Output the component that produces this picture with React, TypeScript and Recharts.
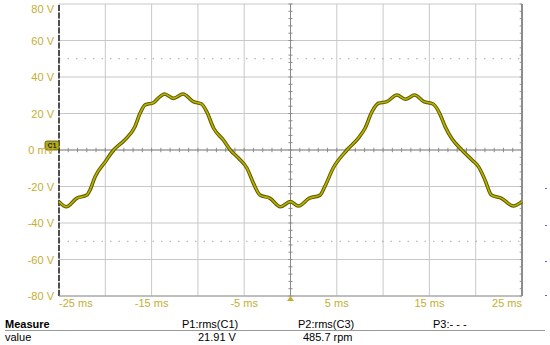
import {
  LineChart,
  Line,
  XAxis,
  YAxis,
  CartesianGrid,
  ReferenceLine,
  ReferenceDot,
} from "recharts";

// waveform (time in ms, C1 in volts)
const timeMs = [
  -25, -24.2, -23.1, -22.0, -21.65, -21.1, -20.0, -19.1, -17.9, -16.8, -16.25,
  -15.7, -14.8, -14.3, -13.6, -12.65, -11.6, -10.5, -9.6, -9.05, -8.3, -7.25,
  -6.5, -5.6, -4.7, -4.0, -3.3, -2.2, -1.1, 0, 0.85, 2.0, 3.2, 3.7, 4.6, 6.1,
  7.3, 8.05, 8.8, 9.5, 10.4, 11.5, 12.4, 13.4, 14.4, 15.4, 16.1, 16.7, 17.4,
  18.5, 19.6, 20.3, 21.0, 21.7, 22.8, 24.05, 25,
];
const voltage = [
  -28.3, -31.1, -26.5, -24.7, -21.9, -14.6, -6.4, 0, 5.5, 12.8, 20.1, 24.7,
  25.9, 28.3, 30.7, 28.3, 30.7, 26.5, 25.2, 21, 11.9, 5.5, 0, -4.5, -10, -18.3,
  -24.7, -26.5, -31.1, -28.3, -30.7, -26.5, -24.7, -20.1, -10, 0, 6.4, 11.9, 21,
  25.6, 26.5, 30.1, 27.8, 30.1, 26.5, 25.2, 20.1, 12.8, 6.4, 0, -5.5, -9.1,
  -16.4, -24.7, -26.5, -30.7, -28.3,
];

const timeTicks = [-25, -20, -15, -10, -5, 0, 5, 10, 15, 20, 25];
const labelledTimes = [-25, -15, -5, 5, 15, 25];
const voltTicks = [-80, -60, -40, -20, 0, 20, 40, 60, 80];

// minor graticule marks on the centre axes
const minorTimes = Array.from({ length: 51 }, (_, i) => i - 25);
const minorVolts = Array.from({ length: 41 }, (_, i) => i * 4 - 80);

const data = timeMs.map((t, i) => ({ t, v: voltage[i] }));

const gold = "#c4ae32";
const font = "'Liberation Sans', Arial, sans-serif";

function TimeTick(props: any) {
  const { x, y, payload } = props;
  if (!labelledTimes.includes(payload.value)) return <g />;
  let anchor = "middle";
  if (payload.value === -25) anchor = "start";
  if (payload.value === 25) anchor = "end";
  return (
    <text x={x} y={y} dy={3} textAnchor={anchor} fill={gold} fontSize={11} fontFamily={font}>
      {payload.value} ms
    </text>
  );
}

function VoltTick(props: any) {
  const { x, y, payload } = props;
  const label = payload.value === 0 ? "0 mV" : `${payload.value} V`;
  return (
    <text x={x} y={y} dy={4} textAnchor="end" fill={gold} fontSize={11} fontFamily={font}>
      {label}
    </text>
  );
}

function TriggerMark(props: any) {
  const { cx, cy } = props;
  return <polygon points={`${cx - 3.5},${cy + 5} ${cx + 3.5},${cy + 5} ${cx},${cy}`} fill={gold} />;
}

function ChannelFlag(props: any) {
  const { cx, cy } = props;
  return (
    <g>
      <rect x={cx - 14} y={cy - 9} width={14} height={9} rx={2} fill="#b3ab10" stroke="#55520a" strokeWidth={0.8} />
      <text x={cx - 7} y={cy - 1.8} textAnchor="middle" fontSize={7} fontWeight="bold" fill="#222" fontFamily={font}>
        C1
      </text>
    </g>
  );
}

const blueMarks = [188, 225, 261, 295];

export default function App() {
  return (
    <div
      style={{
        position: "absolute",
        left: 0,
        top: 0,
        width: 550,
        height: 345,
        background: "#fff",
        fontFamily: font,
      }}
    >
      <LineChart width={550} height={345} data={data} margin={{ top: 4, right: 28, bottom: 29, left: 0 }}>
        <CartesianGrid stroke="#c8c8c8" strokeWidth={1} />
        <XAxis
          dataKey="t"
          type="number"
          domain={[-25, 25]}
          ticks={timeTicks}
          tick={<TimeTick />}
          tickLine={false}
          axisLine={false}
          height={20}
        />
        <YAxis
          type="number"
          domain={[-80, 80]}
          ticks={voltTicks}
          tick={<VoltTick />}
          tickLine={false}
          axisLine={false}
          tickSize={0}
          tickMargin={5}
          width={59}
        />
        <ReferenceLine y={50} stroke="#a8a8a8" strokeDasharray="1.5 7" />
        <ReferenceLine y={-50} stroke="#a8a8a8" strokeDasharray="1.5 7" />
        <ReferenceLine y={0} stroke="#8a8a8a" />
        <ReferenceLine x={0} stroke="#8a8a8a" />
        {minorTimes.map((t) => (
          <ReferenceLine
            key={`mt${t}`}
            segment={[
              { x: t, y: -1.2 },
              { x: t, y: 1.2 },
            ]}
            stroke="#8a8a8a"
          />
        ))}
        {minorVolts.map((v) => (
          <ReferenceLine
            key={`mv${v}`}
            segment={[
              { x: -0.22, y: v },
              { x: 0.22, y: v },
            ]}
            stroke="#8a8a8a"
          />
        ))}
        {minorVolts.map((v) => (
          <ReferenceLine
            key={`rv${v}`}
            segment={[
              { x: 24.75, y: v },
              { x: 25, y: v },
            ]}
            stroke="#999"
          />
        ))}
        <ReferenceLine x={-25} stroke="#2a2a2a" strokeWidth={1.6} strokeDasharray="6 1.5" />
        <ReferenceLine x={25} stroke="#8c8c8c" strokeWidth={2} />
        <ReferenceLine y={-80} stroke="#9a9a9a" />
        <Line
          dataKey="v"
          type="monotone"
          stroke="#5e5a00"
          strokeWidth={3.6}
          dot={false}
          isAnimationActive={false}
        />
        <Line
          dataKey="v"
          type="monotone"
          stroke="#b9b300"
          strokeWidth={1.6}
          dot={false}
          isAnimationActive={false}
        />
        <ReferenceDot x={0} y={-80} r={4} shape={<TriggerMark />} ifOverflow="visible" />
        <ReferenceDot x={-25} y={0} r={4} shape={<ChannelFlag />} ifOverflow="visible" />
      </LineChart>
      {blueMarks.map((y) => (
        <div
          key={y}
          style={{ position: "absolute", left: 545, top: y, width: 2, height: 1, background: "#5a5aff" }}
        />
      ))}
      <div style={{ position: "absolute", left: 5, top: 318, fontSize: 11, fontWeight: "bold", color: "#000" }}>
        Measure
      </div>
      <div style={{ position: "absolute", left: 5, top: 330, width: 540, height: 1, background: "#9a9a9a" }} />
      <div style={{ position: "absolute", left: 5, top: 331, fontSize: 11, color: "#000" }}>value</div>
      <div style={{ position: "absolute", left: 182, top: 318, fontSize: 11, color: "#000" }}>P1:rms(C1)</div>
      <div style={{ position: "absolute", left: 198, top: 331, fontSize: 11, color: "#000" }}>21.91 V</div>
      <div style={{ position: "absolute", left: 298, top: 318, fontSize: 11, color: "#000" }}>P2:rms(C3)</div>
      <div style={{ position: "absolute", left: 303, top: 331, fontSize: 11, color: "#000" }}>485.7 rpm</div>
      <div style={{ position: "absolute", left: 433, top: 318, fontSize: 11, color: "#000" }}>P3:- - -</div>
    </div>
  );
}
